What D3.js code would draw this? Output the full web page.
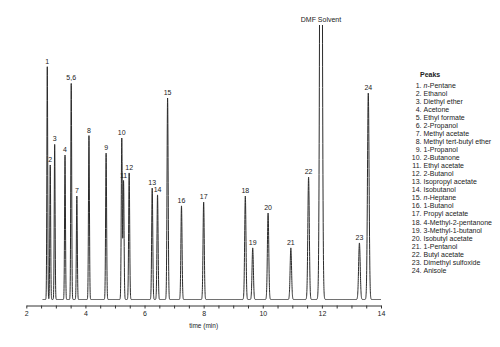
<!DOCTYPE html>
<html>
<head>
<meta charset="utf-8">
<script src="https://cdn.jsdelivr.net/npm/d3@7"></script>
<style>
body{margin:0;background:#fff;}
svg{display:block;font-family:'Liberation Sans',Arial,sans-serif;}
</style>
</head>
<body>
<div class="chart-container"></div>
<script>
// peaks (time in min, height in arbitrary units)
const peak_labels = ['1','2','3','4','5,6','7','8','9','10','11','12','13','14','15','16','17','18','19','20','21','22','DMF Solvent','23','24'];
const peak_times = [2.71,2.81,2.96,3.31,3.52,3.71,4.12,4.70,5.23,5.29,5.48,6.26,6.44,6.78,7.25,8.00,9.41,9.66,10.18,10.95,11.55,11.97,13.27,13.57];
const peak_heights = [84.8,49.0,56.5,52.6,78.7,37.7,59.7,53.3,58.7,43.2,46.1,40.6,38.1,73.4,34.1,35.5,37.7,18.8,31.5,18.8,44.6,300,20.6,75.2];
const x_tick_labels = [2,4,6,8,10,12,14];
const run_range = [2.55,14.0];
const compounds = ['n-Pentane','Ethanol','Diethyl ether','Acetone','Ethyl formate','2-Propanol','Methyl acetate',
  'Methyl tert-butyl ether','1-Propanol','2-Butanone','Ethyl acetate','2-Butanol','Isopropyl acetate','Isobutanol',
  'n-Heptane','1-Butanol','Propyl acetate','4-Methyl-2-pentanone','3-Methyl-1-butanol','Isobutyl acetate',
  '1-Pentanol','Butyl acetate','Dimethyl sulfoxide','Anisole'];

const svg_width = 500, svg_height = 347;
const svg = d3.select('.chart-container').append('svg')
  .attr('width', svg_width).attr('height', svg_height);

const x = d3.scaleLinear().domain([2,14]).range([26.3,381]);
const y = d3.scaleLinear().domain([0,100]).range([299.5,25]);

// peak width (style only): solvent broader, others widen slowly with time
const sigma = (lab, t) => lab === 'DMF Solvent' ? 0.034 : 0.011 + 0.0012*t;
const peaks = peak_labels.map((lab,i) => ({label:lab, t:peak_times[i], h:peak_heights[i], s:sigma(lab, peak_times[i])}));

// trace = sum of gaussian-shaped peaks
const samples = [];
for (let t = run_range[0]; t <= run_range[1] + 1e-9; t += 0.002) {
  let v = 0;
  peaks.forEach(p => { const z = (t - p.t)/p.s; if (Math.abs(z) < 8) v += p.h*Math.exp(-0.5*z*z); });
  samples.push([t, v]);
}

svg.append('clipPath').attr('id','plot-clip')
  .append('rect').attr('x',0).attr('y',y(100)).attr('width',svg_width).attr('height',svg_height);

const line = d3.line().x(d => x(d[0])).y(d => y(d[1]));
svg.append('path')
  .datum(samples)
  .attr('clip-path','url(#plot-clip)')
  .attr('d', line)
  .attr('fill','none')
  .attr('stroke','#2b2b2b')
  .attr('stroke-width',1)
  .attr('stroke-linejoin','round');

// peak labels
svg.append('g').selectAll('text')
  .data(peaks)
  .join('text')
  .attr('x', d => x(d.t))
  .attr('y', d => y(Math.min(d.h,100)) - 3)
  .attr('text-anchor','middle')
  .style('font-size','7px')
  .style('fill','#222')
  .text(d => d.label);

// x axis
const x_axis = d3.axisBottom(x)
  .ticks(24)
  .tickFormat(d => x_tick_labels.includes(d) ? d : '')
  .tickSizeInner(3)
  .tickSizeOuter(0);
const x_axis_draw = svg.append('g')
  .attr('transform','translate(0,305.5)')
  .call(x_axis);
x_axis_draw.select('.domain').attr('stroke','#333');
x_axis_draw.selectAll('line').attr('stroke','#333');
x_axis_draw.selectAll('text').style('font-size','7px').style('fill','#222')
  .style('font-family',"'Liberation Sans',Arial,sans-serif");

svg.append('text')
  .attr('x', x(8)).attr('y', 328)
  .attr('text-anchor','middle')
  .style('font-size','6.5px').style('fill','#222')
  .text('time (min)');

// legend
const legend = svg.append('g').attr('class','legend');
legend.append('text')
  .attr('x',420).attr('y',77)
  .style('font-size','7px').style('font-weight','bold').style('fill','#222')
  .text('Peaks');
const rows = legend.selectAll('.row')
  .data(compounds)
  .join('g')
  .attr('class','row')
  .attr('transform',(d,i) => `translate(0,${87.5 + i*8.06})`);
rows.append('text')
  .attr('x',421.5).attr('text-anchor','end')
  .style('font-size','7px').style('fill','#222')
  .text((d,i) => `${i+1}.`);
const names = rows.append('text')
  .attr('x',423.5)
  .style('font-size','7px').style('fill','#222');
names.each(function(d){
  const t = d3.select(this);
  if (d.startsWith('n-')) {
    t.append('tspan').style('font-style','italic').text('n');
    t.append('tspan').text(d.slice(1));
  } else {
    t.text(d);
  }
});
</script>
</body>
</html>
